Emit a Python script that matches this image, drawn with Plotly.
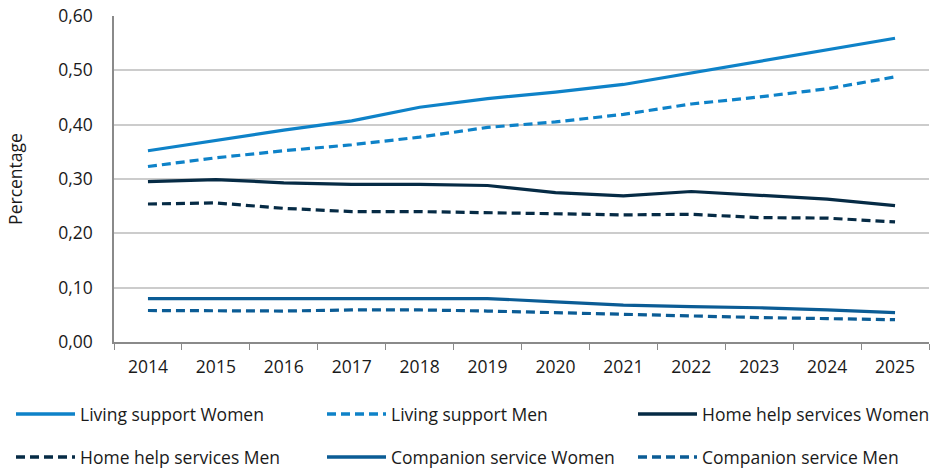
import plotly.graph_objects as go

years = ["2014", "2015", "2016", "2017", "2018", "2019", "2020", "2021", "2022", "2023", "2024", "2025"]

living_support_women = [0.352, 0.371, 0.390, 0.407, 0.432, 0.448, 0.460, 0.474, 0.495, 0.516, 0.537, 0.559]
living_support_men = [0.323, 0.339, 0.352, 0.363, 0.377, 0.395, 0.405, 0.419, 0.438, 0.451, 0.466, 0.488]
home_help_women = [0.295, 0.299, 0.293, 0.290, 0.290, 0.288, 0.275, 0.269, 0.277, 0.270, 0.263, 0.251]
home_help_men = [0.254, 0.256, 0.246, 0.240, 0.240, 0.238, 0.235, 0.234, 0.235, 0.229, 0.228, 0.221]
companion_women = [0.080, 0.080, 0.080, 0.080, 0.081, 0.080, 0.074, 0.068, 0.065, 0.063, 0.059, 0.054]
companion_men = [0.058, 0.057, 0.057, 0.059, 0.059, 0.057, 0.054, 0.050, 0.048, 0.045, 0.043, 0.041]

series_names = ["Living support Women", "Living support Men", "Home help services Women",
                "Home help services Men", "Companion service Women", "Companion service Men"]
series_values = [living_support_women, living_support_men, home_help_women,
                 home_help_men, companion_women, companion_men]
colors = ["#0e82c8", "#0e82c8", "#062b45", "#062b45", "#0b5c95", "#0b5c95"]
dashes = ["solid", "9px,5px", "solid", "9px,5px", "solid", "9px,5px"]

FONT = "Open Sans"
FS = 17.5
TXT = "#1a1a1a"
fig = go.Figure()
for name, vals, c, d in zip(series_names, series_values, colors, dashes):
    fig.add_trace(go.Scatter(x=years, y=vals, name=name, mode="lines",
                             line=dict(color=c, width=3.2, dash=d),
                             showlegend=False))

# custom legend (longer swatches like the reference)
W, H = 937, 471
PL, PR, PT, PB = 114, 929, 16, 342
col_x = [16, 327, 638]
row_y = [414, 457]
for i, (name, c, d) in enumerate(zip(series_names, colors, dashes)):
    cx = col_x[i % 3]
    ry = row_y[i // 3]
    yy = (PB - ry) / (PB - PT)
    fig.add_shape(type="line", xref="paper", yref="paper",
                  x0=(cx - PL) / (PR - PL), x1=(cx + 59 - PL) / (PR - PL),
                  y0=yy, y1=yy,
                  line=dict(color=c, width=3.5, dash=d))
    fig.add_annotation(xref="paper", yref="paper",
                       x=(cx + 62 - PL) / (PR - PL), y=yy,
                       text=name, showarrow=False, xanchor="left", yanchor="middle",
                       font=dict(family=FONT, size=FS, color=TXT))

fig.update_layout(
    width=W, height=H,
    margin=dict(l=PL, r=W - PR, t=PT, b=H - PB, pad=0, autoexpand=False),
    paper_bgcolor="white", plot_bgcolor="white",
    separators=", ",
    font=dict(family=FONT, size=FS, color=TXT),
    showlegend=False,
)
fig.update_xaxes(type="category", range=[-0.5, 11.5], tickson="boundaries",
                 ticks="outside", ticklen=6, tickcolor="#8a8a8a",
                 showline=True, linecolor="#8a8a8a", linewidth=1.5,
                 showgrid=False, ticklabelstandoff=8, automargin=False,
                 tickfont=dict(family=FONT, size=FS, color=TXT))
fig.update_yaxes(range=[0, 0.6], dtick=0.1, tickformat=".2f",
                 showgrid=True, gridcolor="#cccccc", gridwidth=1.5,
                 showline=True, linecolor="#8a8a8a", linewidth=1.5,
                 zeroline=False, ticks="", ticklabelstandoff=16, automargin=False,
                 title=dict(text="Percentage", standoff=31,
                            font=dict(family=FONT, size=FS, color=TXT)),
                 tickfont=dict(family=FONT, size=FS, color=TXT))

fig.write_html("out.html", config={"displayModeBar": False},
               post_script="document.body.style.margin='0';")
